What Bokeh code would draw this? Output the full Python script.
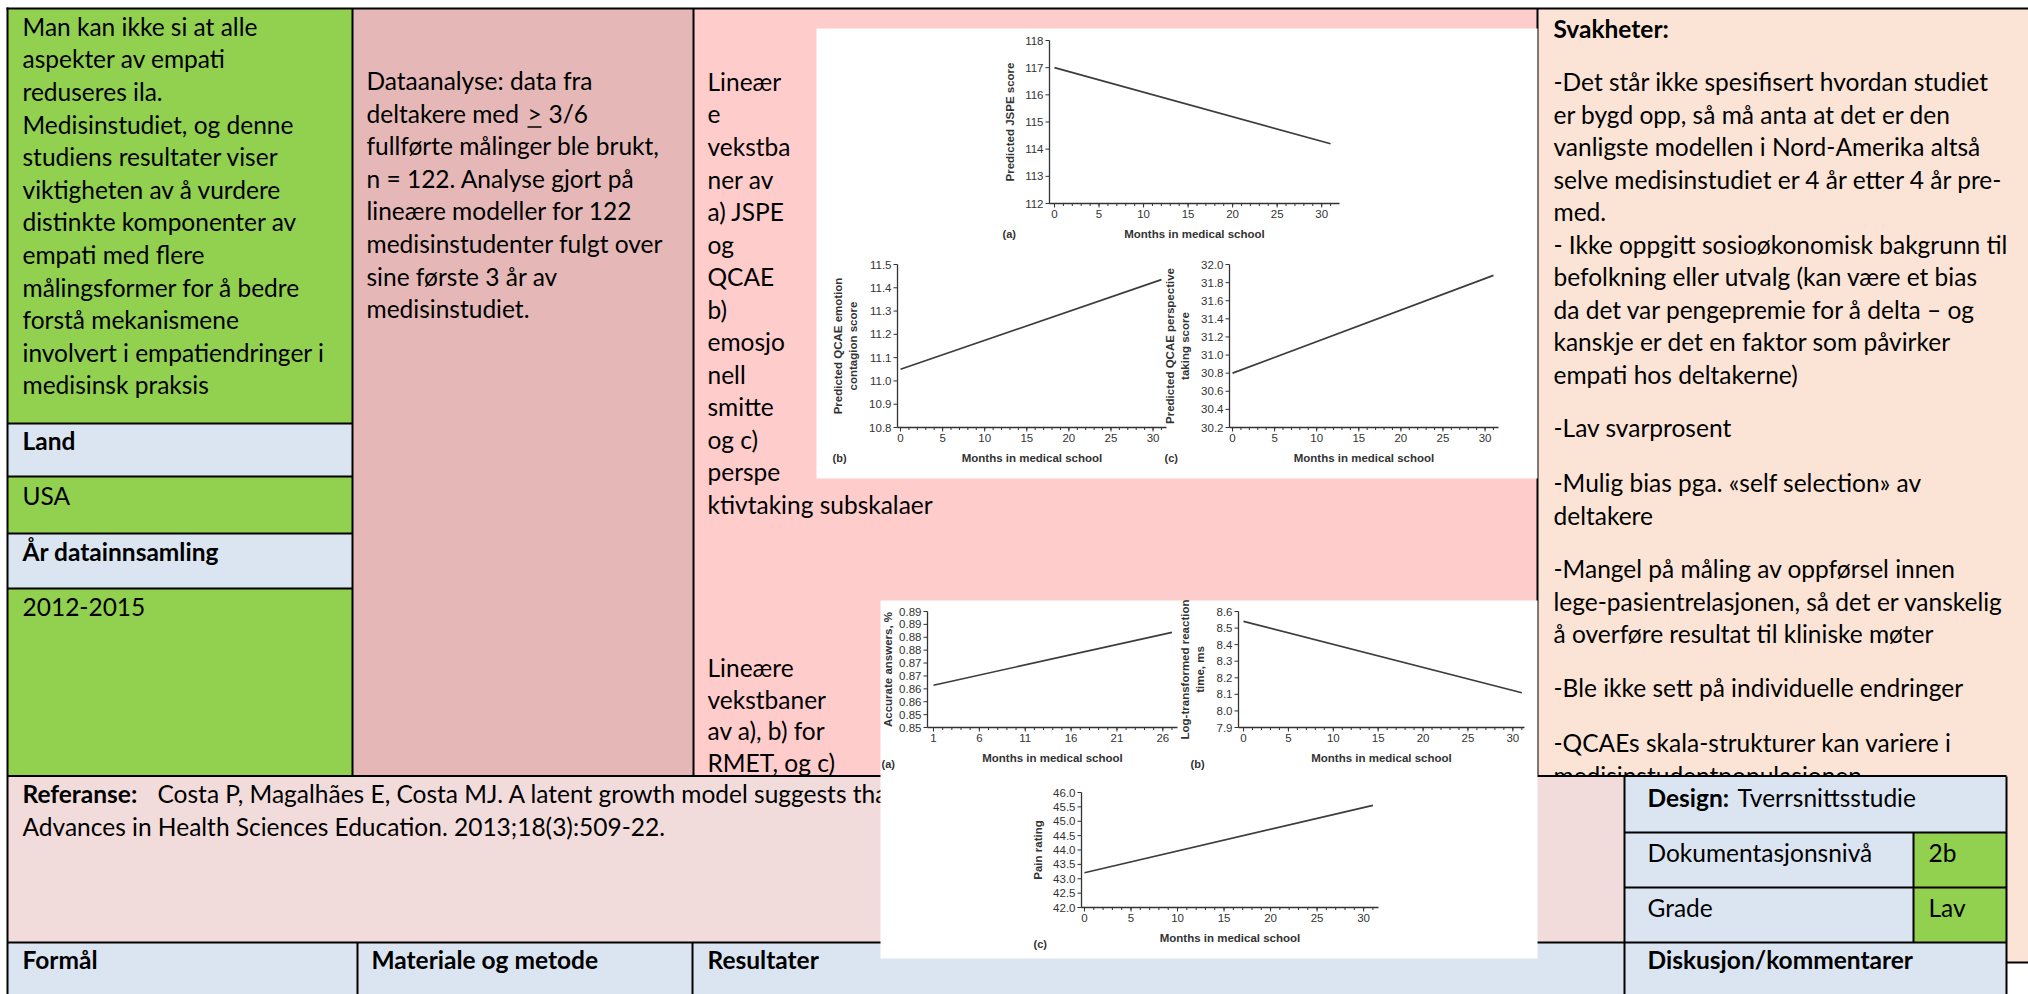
import math
from bokeh.plotting import figure
from bokeh.models import ColumnDataSource, Range1d
from bokeh.embed import file_html
from bokeh.resources import INLINE
from bokeh.core.properties import value

# ---------------- chart data ----------------
jspe_months = [0, 31]
jspe_score = [117.0, 114.2]
emotion_months = [0, 31]
emotion_score = [11.05, 11.435]
perspective_months = [0, 31]
perspective_score = [30.80, 31.88]
rmet_acc_months = [1, 27]
rmet_acc = [0.8614, 0.8819]
rmet_rt_months = [0, 31]
rmet_rt = [8.54, 8.11]
pain_months = [0, 31]
pain_rating = [43.21, 45.55]

month_ticks = [0, 5, 10, 15, 20, 25, 30]
month_minor = list(range(0, 32))
acc_month_ticks = [1, 6, 11, 16, 21, 26]
acc_month_minor = list(range(1, 28))
jspe_yticks = [112, 113, 114, 115, 116, 117, 118]
emotion_yticks = [10.8, 10.9, 11.0, 11.1, 11.2, 11.3, 11.4, 11.5]
perspective_yticks = [30.2, 30.4, 30.6, 30.8, 31.0, 31.2, 31.4, 31.6, 31.8, 32.0]
acc_yticks = [0.845, 0.85, 0.855, 0.86, 0.865, 0.87, 0.875, 0.88, 0.885, 0.89]
acc_ylabels = ["0.85", "0.85", "0.86", "0.86", "0.87", "0.87", "0.88", "0.88", "0.89", "0.89"]
rt_yticks = [7.9, 8.0, 8.1, 8.2, 8.3, 8.4, 8.5, 8.6]
pain_yticks = [42.0, 42.5, 43.0, 43.5, 44.0, 44.5, 45.0, 45.5, 46.0]

# ---------------- table text ----------------
col1_text = ["Man kan ikke si at alle", "aspekter av empati", "reduseres ila.",
             "Medisinstudiet, og denne", "studiens resultater viser",
             "viktigheten av å vurdere", "distinkte komponenter av", "empati med flere",
             "målingsformer for å bedre", "forstå mekanismene",
             "involvert i empatiendringer i", "medisinsk praksis"]
col2_text = ["Dataanalyse: data fra", "", "fullførte målinger ble brukt,",
             "n = 122. Analyse gjort på", "lineære modeller for 122",
             "medisinstudenter fulgt over", "sine første 3 år av", "medisinstudiet."]
col2_line2 = ["deltakere med", ">", "3/6"]
col3_text_a = ["Lineær", "e", "vekstba", "ner av", "a) JSPE", "og", "QCAE", "b)", "emosjo",
               "nell", "smitte", "og c)", "perspe", "ktivtaking subskalaer"]
col3_text_b = ["Lineære", "vekstbaner", "av a), b) for", "RMET, og c)"]
right_text = ["-Det står ikke spesifisert hvordan studiet",
              "er bygd opp, så må anta at det er den",
              "vanligste modellen i Nord-Amerika altså",
              "selve medisinstudiet er 4 år etter 4 år pre-",
              "med.",
              "- Ikke oppgitt sosioøkonomisk bakgrunn til",
              "befolkning eller utvalg (kan være et bias",
              "da det var pengepremie for å delta – og",
              "kanskje er det en faktor som påvirker",
              "empati hos deltakerne)",
              "-Lav svarprosent",
              "-Mulig bias pga. «self selection» av",
              "deltakere",
              "-Mangel på måling av oppførsel innen",
              "lege-pasientrelasjonen, så det er vanskelig",
              "å overføre resultat til kliniske møter",
              "-Ble ikke sett på individuelle endringer",
              "-QCAEs skala-strukturer kan variere i",
              "medisinstudentpopulasjonen"]
right_y = [81, 113.5, 146, 178.5, 211, 243.5, 276, 308.5, 341, 373.5,
           427, 482, 514.5, 568, 600.5, 633, 687, 742, 774.5]

GREEN = "#92d050"
BLUE = "#dbe5f1"
COL2 = "#e5b8b7"
COL3 = "#ffcccc"
PEACH = "#fbe4d5"
REFROW = "#f2dbdb"
FONT = "Lato"
FS = "24.5px"
INK = "#333333"
CFONT = "Liberation Sans"
CFS = "11.5px"

W, H = 2028, 994
p = figure(width=W, height=H, x_range=Range1d(0, W), y_range=Range1d(H, 0),
           output_backend="svg", toolbar_location=None, title=None,
           min_border=0, outline_line_color=None)
p.axis.visible = False
p.grid.visible = False


def cell(l, r, t, b, color):
    p.quad(left=[l], right=[r], top=[t], bottom=[b], fill_color=color, line_color=None)


def txt(xs, ys, texts, bold=False, size=FS, font=FONT, color="#000000", **kw):
    src = ColumnDataSource(dict(x=xs, y=ys, t=texts))
    p.text(x="x", y="y", text="t", source=src, text_font=value(font), text_font_size=size,
           text_font_style="bold" if bold else "normal", text_baseline="middle",
           text_align="left", text_color=color, **kw)


# column backgrounds
cell(7, 352, 8, 423, GREEN)
cell(7, 352, 423, 476, BLUE)
cell(7, 352, 476, 533, GREEN)
cell(7, 352, 533, 588, BLUE)
cell(7, 352, 588, 775, GREEN)
cell(352, 693, 8, 775, COL2)
cell(693, 1537, 8, 775, COL3)
cell(1537, W, 8, 962, PEACH)

# column texts
txt([22] * len(col1_text), [25.7 + 32.6 * i for i in range(len(col1_text))], col1_text)
txt([22], [440], ["Land"], bold=True)
txt([22], [495], ["USA"])
txt([22], [551], ["År datainnsamling"], bold=True)
txt([22], [606], ["2012-2015"])
txt([366] * len(col2_text), [80 + 32.6 * i for i in range(len(col2_text))], col2_text)
txt([366, 527, 548], [112.6] * 3, col2_line2)
p.segment(x0=[527], y0=[126.5], x1=[541], y1=[126.5], line_color="black", line_width=1.6)
txt([707] * len(col3_text_a), [81 + 32.5 * i for i in range(len(col3_text_a))], col3_text_a)
txt([707] * len(col3_text_b), [667 + 31.5 * i for i in range(len(col3_text_b))], col3_text_b)
txt([1553], [28], ["Svakheter:"], bold=True)
txt([1553] * len(right_text), right_y, right_text)

# reference row
cell(7, 1624, 775, 942, REFROW)
txt([22], [793], ["Referanse:"], bold=True)
txt([157], [793], ["Costa P, Magalhães E, Costa MJ. A latent growth model suggests that empathy of medical students does not decline"])
txt([22], [826], ["Advances in Health Sciences Education. 2013;18(3):509-22."])

# design table
cell(1624, 2006, 776, 832, BLUE)
cell(1624, 1913, 832, 942, BLUE)
cell(1913, 2006, 832, 942, GREEN)
txt([1647], [797], ["Design:"], bold=True)
txt([1737], [797], ["Tverrsnittsstudie"])
txt([1647, 1647], [852, 907], ["Dokumentasjonsnivå", "Grade"])
txt([1928, 1928], [852, 907], ["2b", "Lav"])

# header row
cell(7, 2006, 942, H, BLUE)
txt([22, 371, 707, 1647], [959, 959, 959, 959],
    ["Formål", "Materiale og metode", "Resultater", "Diskusjon/kommentarer"], bold=True)

# borders
segs = [
    (6, 8, W, 8),
    (7, 7, 7, H),
    (352, 8, 352, 775), (693, 8, 693, 775), (1537, 8, 1537, 776),
    (7, 423, 352, 423), (7, 476, 352, 476), (7, 533, 352, 533), (7, 588, 352, 588),
    (7, 775.5, 2006, 775.5),
    (1624, 776, 1624, H), (2006, 776, 2006, H), (1913, 832, 1913, 942),
    (1624, 832, 2006, 832), (1624, 887, 2006, 887),
    (7, 942, 2006, 942), (2006, 962, W, 962),
    (357, 942, 357, H), (692, 942, 692, H),
]
p.segment(x0=[s[0] for s in segs], y0=[s[1] for s in segs], x1=[s[2] for s in segs],
          y1=[s[3] for s in segs], line_color="black", line_width=2)

# white picture boxes
cell(816, 1537, 28, 478, "#ffffff")
cell(880, 1537, 600, 958, "#ffffff")

# panel letters of the pictures
txt([1002, 832, 1164, 881, 1190, 1033], [233, 457, 457, 763, 763, 943],
    ["(a)", "(b)", "(c)", "(a)", "(b)", "(c)"], bold=True, size="11px",
    font=CFONT, color=INK)


def add_chart(name, L, T, fw, fh, xr, yr, xticks, xminor, yticks, ylabels,
              xs, ys, ytitle, title_dx):
    """Chart drawn in its own named ranges, mapped onto the box (L, T, fw, fh)."""
    x0, x1 = xr
    y0, y1 = yr
    sx = (x1 - x0) / fw
    sy = (y1 - y0) / fh
    xs0 = x0 - L * sx
    ys0 = y0 - (H - (T + fh)) * sy
    p.extra_x_ranges[name + "_x"] = Range1d(xs0, xs0 + W * sx)
    p.extra_y_ranges[name + "_y"] = Range1d(ys0, ys0 + H * sy)
    kw = dict(x_range_name=name + "_x", y_range_name=name + "_y")
    # axis lines
    p.segment(x0=[x0, x0], y0=[y0, y0], x1=[x0, x1], y1=[y1, y0],
              line_color=INK, line_width=1.3, **kw)
    # ticks
    p.segment(x0=[x0] * len(yticks), y0=yticks, x1=[x0 - 4 * sx] * len(yticks), y1=yticks,
              line_color=INK, line_width=1, **kw)
    p.segment(x0=xticks, y0=[y0] * len(xticks), x1=xticks, y1=[y0 - 4 * sy] * len(xticks),
              line_color=INK, line_width=1, **kw)
    p.segment(x0=xminor, y0=[y0] * len(xminor), x1=xminor, y1=[y0 - 2.5 * sy] * len(xminor),
              line_color=INK, line_width=1, **kw)
    # tick labels
    p.text(x=[x0 - 6 * sx] * len(yticks), y=yticks, text=ylabels, text_align="right",
           text_baseline="middle", text_font=value(CFONT), text_font_size=CFS,
           text_color=INK, **kw)
    p.text(x=xticks, y=[y0 - 6 * sy] * len(xticks), text=[str(t) for t in xticks],
           text_align="center", text_baseline="top", text_font=value(CFONT),
           text_font_size=CFS, text_color=INK, **kw)
    # axis titles
    p.text(x=[(x0 + x1) / 2], y=[y0 - 24 * sy], text=["Months in medical school"],
           text_align="center", text_baseline="top", text_font=value(CFONT),
           text_font_size=CFS, text_font_style="bold", text_color=INK, **kw)
    p.text(x=[x0 - title_dx * sx], y=[(y0 + y1) / 2], text=[ytitle], angle=math.pi / 2,
           text_align="center", text_baseline="middle", text_font=value(CFONT),
           text_font_size=CFS, text_font_style="bold", text_color=INK,
           text_line_height=1.2, **kw)
    # trajectory
    p.line(xs, ys, line_color="#3c3c3c", line_width=1.7, **kw)


add_chart("a", 1049, 40, 290, 163, (-0.56, 32.0), (112, 118), month_ticks, month_minor,
          jspe_yticks, [str(v) for v in jspe_yticks], jspe_months, jspe_score,
          "Predicted JSPE score", 40)
add_chart("b", 897, 264, 269, 163, (-0.36, 31.6), (10.8, 11.5), month_ticks, month_minor,
          emotion_yticks, [f"{v:.1f}" for v in emotion_yticks], emotion_months,
          emotion_score, "Predicted QCAE emotion\ncontagion score", 52)
add_chart("c", 1229, 264, 269, 163, (-0.36, 31.6), (30.2, 32.0), month_ticks, month_minor,
          perspective_yticks, [f"{v:.1f}" for v in perspective_yticks], perspective_months,
          perspective_score, "Predicted QCAE perspective\ntaking score", 52)
add_chart("a2", 927, 611, 250, 116, (0.345, 27.6), (0.845, 0.89), acc_month_ticks,
          acc_month_minor, acc_yticks, acc_ylabels, rmet_acc_months, rmet_acc,
          "Accurate answers, %", 40)
add_chart("b2", 1238, 611, 286, 116, (-0.56, 31.3), (7.9, 8.6), month_ticks, month_minor,
          rt_yticks, [f"{v:.1f}" for v in rt_yticks], rmet_rt_months, rmet_rt,
          "Log-transformed reaction\ntime, ms", 46)
add_chart("c2", 1081, 792, 297, 115, (-0.32, 31.6), (42.0, 46.0), month_ticks, month_minor,
          pain_yticks, [f"{v:.1f}" for v in pain_yticks], pain_months, pain_rating,
          "Pain rating", 44)

open("out.html", "w").write(file_html(p, INLINE))
